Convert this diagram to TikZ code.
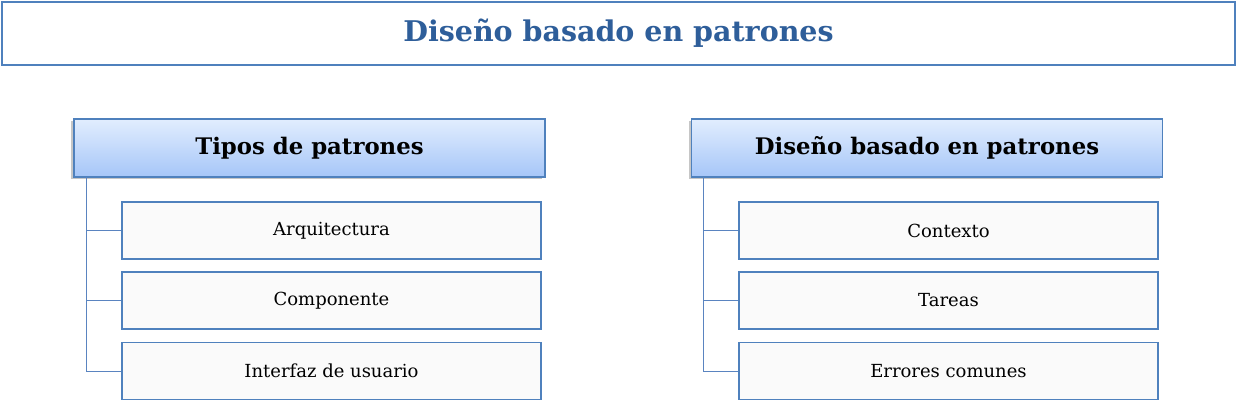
\documentclass[tikz,border=0pt]{standalone}
\usepackage{fontspec}
\setmainfont{DejaVu Serif}
\usetikzlibrary{shadows}
\definecolor{titleblue}{HTML}{2E5E9A}
\definecolor{boxborder}{HTML}{4F81BD}
\definecolor{lineblue}{HTML}{5A84C0}
\definecolor{gradtop}{HTML}{E1EDFE}
\definecolor{gradbot}{HTML}{A6C6F8}
\definecolor{childfill}{HTML}{FAFAFA}
\tikzset{
  titlebox/.style={draw=boxborder, line width=1.2pt, fill=white, minimum width=1233pt, minimum height=63pt, inner sep=0pt, text=titleblue, font=\fontsize{28.5}{32}\selectfont\bfseries},
  headbox/.style={draw=boxborder, line width=1.2pt, top color=gradtop, bottom color=gradbot, minimum width=471pt, minimum height=58pt, inner sep=0pt, font=\fontsize{22.8}{26}\selectfont\bfseries, drop shadow={shadow xshift=-3pt, shadow yshift=-2pt, opacity=0.45, fill=gray}},
  childbox/.style={draw=boxborder, line width=1.3pt, fill=childfill, minimum width=419pt, minimum height=57pt, inner sep=0pt, font=\fontsize{18}{21}\selectfont},
  conn/.style={draw=lineblue, line width=0.8pt}
}
\begin{document}
\begin{tikzpicture}[x=1pt,y=-1pt]
\useasboundingbox (0,0) rectangle (1237,403);
\node[titlebox] (title) at (618.5,33.5) {Diseño basado en patrones};
% left
\node[headbox] (h1) at (309.5,148) {Tipos de patrones};
\node[childbox] (a1) at (331.5,230.5) {Arquitectura};
\node[childbox] (a2) at (331.5,300.5) {Componente};
\node[childbox] (a3) at (331.5,371) {Interfaz de usuario};
\coordinate (l1) at (86,177);
\draw[conn] (l1) |- (a1.west);
\draw[conn] (l1) |- (a2.west);
\draw[conn] (l1) |- (a3.west);
% right
\node[headbox] (h2) at (927,148) {Diseño basado en patrones};
\node[childbox] (b1) at (948.5,230.5) {Contexto};
\node[childbox] (b2) at (948.5,300.5) {Tareas};
\node[childbox] (b3) at (948.5,371) {Errores comunes};
\coordinate (r1) at (703,177);
\draw[conn] (r1) |- (b1.west);
\draw[conn] (r1) |- (b2.west);
\draw[conn] (r1) |- (b3.west);
\end{tikzpicture}
\end{document}
